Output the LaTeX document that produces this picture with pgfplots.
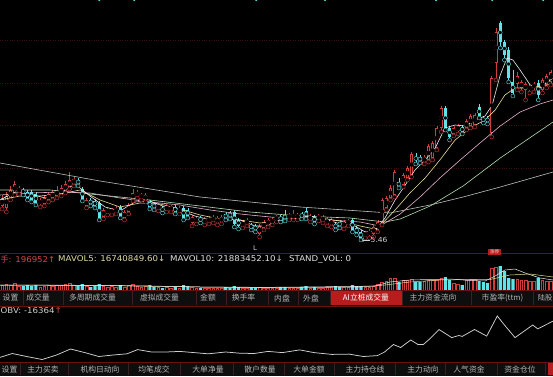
\documentclass[border=0pt]{standalone}
\usepackage{pgfplots}
\pgfplotsset{compat=1.18}
\usepackage{pgfplotstable}
\usepackage{fontspec}
\setmainfont{Noto Sans CJK SC}
\newfontfamily\lat{DejaVu Sans}[FakeStretch=1.08]
\usetikzlibrary{arrows.meta}

\definecolor{cRed}{HTML}{D23C3C}
\definecolor{cCyan}{HTML}{5EE3E8}
\definecolor{cGrid}{HTML}{3E0E0E}
\definecolor{cSep}{HTML}{6A1212}
\definecolor{cDiv}{HTML}{3A2020}
\definecolor{cTab}{HTML}{0E0E0E}
\definecolor{cTabTxt}{HTML}{B4B4B4}
\definecolor{cHi}{HTML}{B81C1C}
\definecolor{cHdrRed}{HTML}{D04848}
\definecolor{cMavA}{HTML}{E2DCA6}
\definecolor{cMavB}{HTML}{E4E4E4}
\definecolor{cLbl}{HTML}{D0D0D0}
\definecolor{ma5}{HTML}{EEEEEE}
\definecolor{ma10}{HTML}{E8DE96}
\definecolor{ma20}{HTML}{E6B0CC}
\definecolor{ma30}{HTML}{B0DCB0}
\definecolor{ma60}{HTML}{BAC2BA}

% up (red, hollow) candles: index, open, high, low, close, volume
\pgfplotstableread{
i o h l c v
0 44 55 41 52 5
1 42 58 38 54 6
2 52 64 50 60 5
3 57 69 55 66 7
4 58 64 56 62 4
9 46 52 43 50 3
10 46 55 44 52 4
11 50 58 48 56 5
12 52 60 50 58 4
13 54 64 52 60 5
14 56 65 54 62 5
15 59 69 57 66 6
16 63 78 61 70 7
17 66 73 64 71 5
20 44 52 42 50 4
24 33 42 31 40 4
25 37 43 35 41 3
26 37 42 35 40 4
27 38 44 36 41 3
29 32 40 30 38 3
30 38 47 36 45 5
31 51 61 49 57 6
32 54 60 52 58 4
33 52 57 50 55 3
34 50 57 48 55 4
37 41 47 39 45 3
39 40 46 38 44 3
40 40 45 38 43 2
42 38 44 36 42 2
45 27 35 24 33 3
46 28 34 26 32 2
48 27 33 25 31 2
49 28 34 26 32 2
50 29 35 27 33 2
51 27 34 25 32 2
52 28 35 26 33 2
57 24 30 22 28 2
58 26 32 24 30 2
61 16 26 13 24 3
62 22 30 20 28 2
63 25 32 23 30 2
64 27 33 25 31 2
65 30 35 28 33 2
68 32 37 30 35 2
69 32 40 30 36 2
70 32 37 30 35 2
73 30 36 28 34 2
75 31 36 29 34 2
76 29 35 27 33 2
77 26 33 24 31 3
78 25 32 23 30 3
81 23 30 21 28 3
82 26 31 24 29 3
86 14 19 12 17 3
87 15 21 12 19 3
88 16 25 13 23 4
89 20 30 18 28 6
90 27 52 25 50 8
91 42 54 40 52 9
92 52 65 50 62 12
93 55 80 53 78 12
95 65 77 63 75 10
96 72 84 70 82 10
97 75 98 73 96 11
100 88 95 86 93 9
101 90 106 88 104 10
102 92 109 90 107 10
103 102 124 100 122 10
104 122 144 118 142 12
107 116 124 114 122 7
108 119 126 116 124 6
110 122 131 120 129 10
111 124 136 122 134 11
112 125 137 123 135 11
116 117 174 113 172 22
117 187 222 170 218 23
122 166 178 160 174 11
123 162 170 158 168 10
124 160 168 150 166 10
125 160 166 157 164 9
126 162 168 158 166 9
128 160 172 157 170 10
129 165 176 162 174 9
130 168 180 165 178 9
}\upT

% down (cyan, filled) candles
\pgfplotstableread{
i o h l c v
5 60 62 55 57 4
6 58 60 50 52 5
7 58 60 48 50 4
8 56 58 45 47 5
18 70 72 64 66 4
19 61 63 49 51 6
21 50 52 44 46 3
22 49 51 42 44 4
23 47 49 30 32 6
28 43 45 32 34 5
35 48 50 41 43 5
36 46 48 40 42 3
38 42 44 37 39 2
41 43 45 36 38 3
43 42 44 30 32 5
44 40 42 32 34 4
47 32 34 27 29 2
53 36 38 30 32 3
54 37 39 31 33 2
55 38 40 23 26 4
56 30 32 21 24 3
59 25 27 20 22 2
60 24 26 18 20 2
66 33 35 28 30 3
67 35 40 29 31 3
71 36 38 31 33 3
72 39 42 31 33 4
74 33 35 26 28 3
79 26 28 20 22 4
80 28 30 22 24 3
83 30 32 18 20 5
84 22 24 15 17 4
85 18 20 10 12 4
94 68 72 62 64 8
98 93 97 86 90 8
99 93 95 87 89 8
105 142 144 120 122 13
106 122 124 110 113 10
109 123 125 116 118 5
113 143 146 132 134 9
114 132 134 127 129 8
115 132 134 126 128 7
118 227 229 202 208 24
119 208 210 190 195 19
120 200 203 168 172 12
121 168 180 154 157 11
127 167 170 150 155 12
}\dnT

\begin{document}
\begin{tikzpicture}
\useasboundingbox (0pt,0pt) rectangle (553pt,376pt);
\fill[black] (0pt,0pt) rectangle (553pt,376pt);
\begin{scope}
\clip (0pt,0pt) rectangle (553pt,376pt);

% ---------------- main price panel ----------------
\begin{axis}[
  at={(0pt,126pt)}, anchor=south west, scale only axis,
  width=553pt, height=250pt,
  xmin=-0.5, xmax=130.5, ymin=0, ymax=250,
  axis line style={draw=none}, tick style={draw=none},
  xtick=\empty, ytick={82,125,167,210}, yticklabels={},
  major tick length=0pt,
  ymajorgrids, grid style={cGrid, dotted, line width=0.4pt},
]
% up candles
\addplot[only marks, mark=none, draw=cRed, error bars/.cd, y dir=both, y explicit, error mark=none,
  error bar style={draw=cRed, line width=0.6pt}]
  table[x=i, y=l, y error plus expr=\thisrow{h}-\thisrow{l}, y error minus expr=0]{\upT};
\addplot[only marks, mark=none, draw=cRed, error bars/.cd, y dir=both, y explicit, error mark=none,
  error bar style={draw=cRed, line width=3pt}]
  table[x=i, y expr={(\thisrow{o}+\thisrow{c})/2}, y error expr={abs(\thisrow{c}-\thisrow{o})/2}]{\upT};
\addplot[only marks, mark=none, draw=black, error bars/.cd, y dir=both, y explicit, error mark=none,
  error bar style={draw=black, line width=1.6pt}]
  table[x=i, y expr={(\thisrow{o}+\thisrow{c})/2}, y error expr={max(abs(\thisrow{c}-\thisrow{o})/2-0.75,0)}]{\upT};
% down candles
\addplot[only marks, mark=none, draw=cCyan, error bars/.cd, y dir=both, y explicit, error mark=none,
  error bar style={draw=cCyan, line width=0.6pt}]
  table[x=i, y=l, y error plus expr=\thisrow{h}-\thisrow{l}, y error minus expr=0]{\dnT};
\addplot[only marks, mark=none, draw=cCyan, error bars/.cd, y dir=both, y explicit, error mark=none,
  error bar style={draw=cCyan, line width=3pt}]
  table[x=i, y expr={(\thisrow{o}+\thisrow{c})/2}, y error expr={abs(\thisrow{c}-\thisrow{o})/2}]{\dnT};
% moving averages
\addplot[ma60, line width=0.6pt] coordinates {(-0.5,87) (23.2,69) (46.9,53) (70.6,43) (84.8,39) (91.9,37) (101.4,45) (109.2,53) (118,63) (130.5,78)};
\addplot[ma30, line width=0.6pt] coordinates {(-0.5,60) (11.4,60) (23.2,55) (35,50) (46.9,44) (58.7,38) (70.6,34) (82.4,32) (90.7,28) (94.3,31) (101.4,44) (109.2,64) (118,92) (130.5,128)};
\addplot[ma20, line width=0.6pt] coordinates {(-0.5,55) (6.6,57) (13.7,58) (20.8,57) (27.9,52) (35,48) (42.1,45) (49.3,40) (56.4,36) (63.5,33) (70.6,31) (77.7,30) (84.8,28) (89.5,24) (94.3,36) (99,53) (103.7,72) (108.5,90) (113.2,107) (118,124) (122.7,138) (127.4,146) (130.5,150)};
\addplot[ma10, line width=0.6pt] coordinates {(-0.5,50) (4.2,54) (9,54) (13.7,56) (18.5,60) (23.2,50) (27.9,43) (32.7,47) (37.4,46) (42.1,41) (46.9,35) (51.6,31) (56.4,30) (61.1,27) (65.8,29) (70.6,32) (75.3,32) (80,29) (84.8,24) (88.3,21) (89.5,24) (93.1,40) (96.6,57) (100.2,72) (103.7,90) (107.3,110) (110.9,122) (114.4,130) (116.8,140) (119.1,155) (121.5,162) (125.1,162) (130.5,166)};
\addplot[ma5, line width=0.6pt] coordinates {(-0.5,50) (3.1,58) (6.6,56) (10.2,52) (13.7,57) (17.3,66) (20.8,54) (24.4,43) (27.9,39) (31.5,48) (35,49) (38.6,43) (42.1,40) (45.7,34) (49.3,30) (52.8,31) (56.4,30) (59.9,24) (62.3,24) (65.8,30) (69.4,34) (72.9,34) (76.5,31) (80.1,26) (83.6,24) (86,18) (88.3,19) (90.7,32) (93.1,50) (95.5,65) (97.8,80) (100.2,90) (102.6,102) (104.9,122) (107.3,125) (109.7,124) (112,130) (114.4,134) (116.1,145) (118,175) (119.6,192) (121,190) (122.7,180) (125.1,165) (127.4,162) (130.5,172)};
% small markers at the top edge
\addplot[only marks, mark=*, mark size=0.9pt, cCyan] coordinates {(23,250) (31.3,250) (60.2,250) (76.5,250) (102.8,250) (116.1,250) (128.2,250)};
\end{axis}

% ---------------- volume panel ----------------
\begin{axis}[
  at={(0pt,86pt)}, anchor=south west, scale only axis,
  width=553pt, height=28pt,
  xmin=-0.5, xmax=130.5, ymin=0, ymax=28, hide axis,
]
\addplot[ybar, bar width=2.6pt, bar shift=0pt, draw=cRed, fill=black, line width=0.6pt] table[x=i, y=v]{\upT};
\addplot[ybar, bar width=3.2pt, bar shift=0pt, draw=none, fill=cCyan] table[x=i, y=v]{\dnT};
\addplot[ma10, line width=0.5pt] coordinates {(-0.5,5) (23.2,4.5) (46.9,3) (70.6,2.5) (84.8,3) (90.7,5) (96.6,8) (103.7,10) (110.9,10.5) (115.6,10.5) (120.3,15) (125.1,16) (130.5,13)};
\addplot[ma5, line width=0.5pt] coordinates {(-0.5,5) (11.4,5) (23.2,4.5) (35,4) (46.9,3) (58.7,2.5) (70.6,3) (82.4,3.5) (88.3,4) (91.9,8) (96.6,10) (101.4,10.5) (106.1,11) (110.9,9.5) (114.4,9) (116.8,14) (119.1,20) (121.5,21) (123.9,17) (127.4,12) (130.5,10)};
\end{axis}

% ---------------- OBV panel ----------------
\begin{axis}[
  at={(0pt,13pt)}, anchor=south west, scale only axis,
  width=553pt, height=51pt,
  xmin=-0.5, xmax=130.5, ymin=0, ymax=51, hide axis,
]
\addplot[cLbl, line width=0.75pt] coordinates {(-0.5,5.6) (2.4,9.5) (5.8,6.5) (9.5,3.5) (12.9,8) (16.2,14) (19.6,10.4) (22.9,6.5) (26.3,8) (29.6,9.2) (32.1,13.4) (35.4,11) (38.8,11) (42.1,11.6) (45.5,10.4) (48.8,9.2) (53,11) (56.3,9.8) (59.7,9.5) (63,11.6) (66.4,10.4) (70.5,13.1) (73.9,10.4) (78.1,8.6) (82.2,8.9) (85.6,6.5) (88.9,7.4) (90.6,11) (92.7,18.5) (94.4,15.5) (96.8,23) (98.5,18.5) (99.8,18.5) (101.4,24.5) (103.5,33.5) (106.5,25.4) (108.2,27.5) (109,26.6) (111.9,33.5) (114.8,26.9) (117.3,47) (119,38) (121.5,25.4) (125.7,38) (126.9,34.1) (130.5,41.9)};
\end{axis}

% ---------------- annotations in price panel ----------------
\node[inner sep=0pt, text=cLbl, font=\lat\fontsize{6.5}{7}\selectfont] at (255pt,127.5pt) {L};
\draw[cLbl, line width=0.5pt, -{Straight Barb[length=1.5pt]}] (370pt,136pt) -- (362pt,136pt);
\node[anchor=west, inner sep=0pt, text=cLbl, font=\lat\fontsize{7}{8}\selectfont] at (370.5pt,136pt) {5.46};

% separator and volume header
\draw[cSep, line width=0.6pt] (0pt,123pt) -- (553pt,123pt);
\fill[cHi] (488pt,121.5pt) rectangle (501pt,127pt);
\node[inner sep=0pt, text=white!85!red, font=\fontsize{4.5}{5}\selectfont] at (494.5pt,124.2pt) {涨停};
\node[anchor=west, inner sep=0pt, text=cHdrRed] at (0.5pt,117pt) {\fontsize{8}{9}\selectfont 手\lat: 196952↑};
\node[anchor=west, inner sep=0pt, text=cMavA] at (58pt,117pt) {\lat\fontsize{8}{9}\selectfont MAVOL5: 16740849.60↓};
\node[anchor=west, inner sep=0pt, text=cMavB] at (170pt,117pt) {\lat\fontsize{8}{9}\selectfont MAVOL10: 21883452.10↓};
\node[anchor=west, inner sep=0pt, text=cMavB] at (289pt,117pt) {\lat\fontsize{8}{9}\selectfont STAND\_VOL: 0};

% tab bar 1
\fill[cTab] (0pt,70pt) rectangle (553pt,86pt);
\fill[cHi] (331pt,71pt) rectangle (402pt,85.5pt);
\draw[cSep, line width=0.6pt] (0pt,86pt) -- (553pt,86pt);
\draw[cSep, line width=0.5pt] (0pt,70pt) -- (553pt,70pt);
\foreach \x in {23,63,132,196,226,268,298,330,402,471,533}
  \draw[cDiv, line width=0.6pt] (\x pt,71pt) -- (\x pt,85pt);
\foreach \x/\t in {10.5/设置,38/成交量,92.5/多周期成交量,159.5/虚拟成交量,208/金额,243.5/换手率,282/内盘,311/外盘,433/主力资金流向,502.5/市盈率(ttm)}
  \node[inner sep=0pt, text=cTabTxt, font=\fontsize{7.8}{8}\selectfont] at (\x pt,78pt) {\t};
\node[inner sep=0pt, text=white, font=\fontsize{7.8}{8}\selectfont] at (366pt,78pt) {AI立桩成交量};
\node[anchor=east, inner sep=0pt, text=cTabTxt, font=\fontsize{7.2}{8}\selectfont] at (552.5pt,78pt) {陆股};

% OBV header
\node[anchor=west, inner sep=0pt, text=cLbl] at (0.5pt,65pt) {\lat\fontsize{8}{9}\selectfont OBV: -16364\textcolor{cHdrRed}{↑}};

% tab bar 2
\fill[cTab] (0pt,0pt) rectangle (553pt,14pt);
\draw[cSep, line width=0.6pt] (0pt,14pt) -- (553pt,14pt);
\foreach \x in {20,68,128,180,233,284,334,395,445,497,545}
  \draw[cDiv, line width=0.6pt] (\x pt,1pt) -- (\x pt,13pt);
\fill[cHi] (548pt,1pt) rectangle (553pt,13pt);
\foreach \x/\t in {9.5/设置,43/主力买卖,100/机构日动向,154/均笔成交,208/大单净量,260/散户数量,309/大单金额,365/主力持仓线,423/主力动向,469/人气资金,520/资金仓位}
  \node[inner sep=0pt, text=cTabTxt, font=\fontsize{7.8}{8}\selectfont] at (\x pt,6.5pt) {\t};
\end{scope}
\end{tikzpicture}
\end{document}
